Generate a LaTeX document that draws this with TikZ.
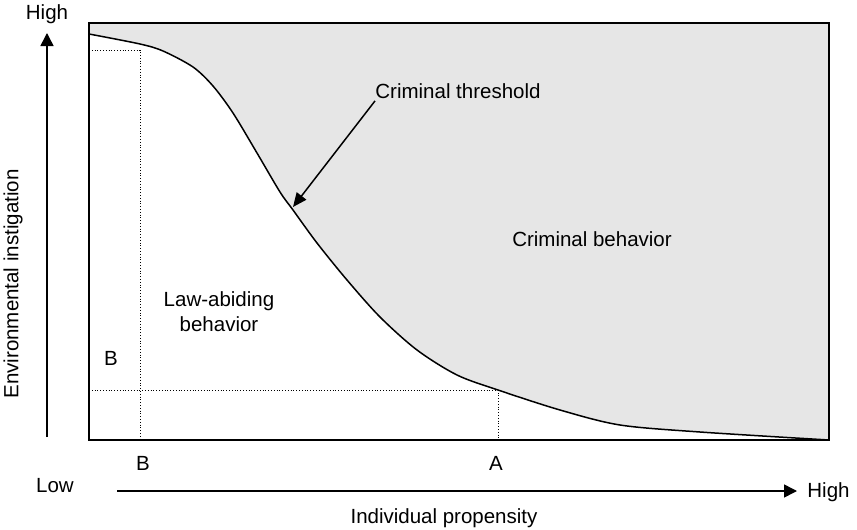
\documentclass[tikz,border=0pt]{standalone}
\usepackage{fontspec}
\setmainfont{Liberation Sans}
\usetikzlibrary{arrows.meta}
\definecolor{RegionGrey}{HTML}{E6E6E6}
\begin{document}
\begin{tikzpicture}[x=0.5pt, y=-0.5pt,
  every node/.style={font=\fontsize{10.25}{12.5}\selectfont, inner sep=1pt},
  frame/.style={line width=1pt},
  guide/.style={densely dotted, line width=0.4pt},
  axis/.style={line width=0.75pt, -{Triangle[length=6.5pt, width=6.5pt]}},
  pointer/.style={line width=0.75pt, -{Triangle[length=7pt, width=6pt]}}]
  \useasboundingbox (0,0) rectangle (857,530);
  \def\threshpts{(89,34) (140,44) (163,51) (193,67) (213,86) (233,113) (257,153) (280,192) (293,210)
    (317,243) (347,280) (380,317) (417,350) (457,375) (498,390) (560,410) (620,425) (700,432) (829,440)}
  % region above the threshold
  \fill[RegionGrey] plot[smooth] coordinates {\threshpts} -- (829,23) -- (89,23) -- cycle;
  % guide lines for A and B
  \draw[guide] (89,50) -- (140,50) -- (140,440);
  \draw[guide] (89,390) -- (498,390) -- (498,440);
  % threshold curve
  \draw[line width=0.75pt] plot[smooth] coordinates {\threshpts};
  \draw[frame] (89,23) rectangle (829,440);
  % axes
  \coordinate (yBase) at (47,437);
  \coordinate (yTip) at (47,33);
  \coordinate (xBase) at (117,491);
  \coordinate (xTip) at (797,491);
  \draw[axis] (yBase) -- (yTip);
  \draw[axis] (xBase) -- (xTip);
  \node (hiY) at (47,14) {High};
  \node (loY) at (55,486) {Low};
  \node[anchor=west] (hiX) at (805,492) {High};
  \node[rotate=90] (ylab) at (13,284) {Environmental instigation};
  \node (xlab) at (444,518) {Individual propensity};
  % labels in the plot
  \node (thr) at (458,91) {Criminal threshold};
  \node (crim) at (592,239) {Criminal behavior};
  \node[align=center] (law) at (219,312) {Law-abiding\\behavior};
  \node (bIn) at (111,358) {B};
  \node (bOut) at (143,463) {B};
  \node (aOut) at (496,463) {A};
  \coordinate (thrHit) at (293,207);
  \draw[pointer] ([xshift=1pt]thr.south west) -- (thrHit);
\end{tikzpicture}
\end{document}
